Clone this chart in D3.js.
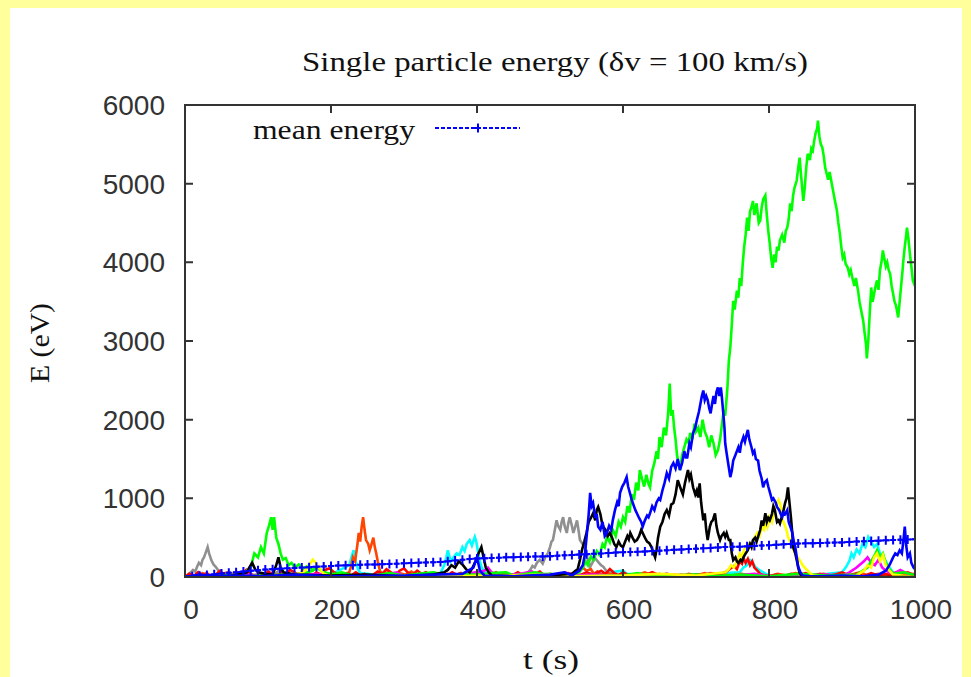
<!DOCTYPE html>
<html>
  <head>
    <script src="https://d3js.org/d3.v7.min.js" charset="utf-8"></script>
    <meta charset="UTF-8">
    <title>single particle energy</title>
    <style>
      body { margin: 0; background: #ffff9c; }
      .tick-label { font-family: "Liberation Sans", Arial, sans-serif; font-size: 28px; fill: #333; }
      .serif { font-family: "Liberation Serif", "Times New Roman", serif; fill: #111; }
    </style>
  </head>
  <body>
    <svg class="chart"></svg>
    <script type="text/javascript">

      var width = 971,
          height = 677,
          plotLeft = 185, plotRight = 915,
          plotTop = 105, plotBottom = 577;

      var xTicks = [0, 200, 400, 600, 800, 1000];
      var yTicks = [0, 1000, 2000, 3000, 4000, 5000, 6000];

      // mean energy, one value every 10 s from t = 0 to 1000
      var meanTimes = d3.range(0, 1001, 10);
      var meanValues = [5, 10, 15, 25, 35, 45, 55, 60, 70, 80, 85, 95, 100, 105, 110, 115, 120, 125, 130, 135,
                        140, 145, 148, 150, 155, 158, 160, 162, 165, 170, 175, 178, 182, 185, 188, 192, 200, 210, 220, 228,
                        235, 238, 240, 245, 250, 252, 255, 258, 260, 262, 265, 270, 275, 280, 285, 290, 295, 300, 305, 310,
                        315, 318, 320, 325, 330, 335, 340, 345, 350, 355, 360, 365, 370, 375, 380, 383, 385, 390, 395, 400,
                        405, 410, 415, 420, 425, 428, 430, 432, 435, 438, 440, 445, 450, 455, 458, 462, 466, 470, 474, 477, 480];

      // single particles, [t, E] pairs
      var greenMain = [[0,0],[20,10],[40,5],[60,20],[80,40],[90,120],[95,300],[100,250],[104,380],[108,300],[112,560],[115,650],[118,760],[120,600],[122,760],[125,500],[128,420],[131,300],[134,220],[138,240],[142,150],[146,180],[150,120],[156,160],[162,110],[168,140],[175,90],[182,120],[190,60],[200,40],[220,20],[250,10],[300,20],[350,10],[400,30],[450,20],[500,40],[520,10],[540,60],[545,120],[549,200],[552,150],[556,260],[560,220],[564,330],[568,280],[572,420],[575,380],[578,510],[582,440],[586,600],[590,520],[594,700],[597,640],[600,760],[603,700],[606,900],[609,820],[612,1050],[615,980],[618,1200],[621,1100],[623,1360],[626,1250],[629,1150],[632,1300],[635,1180],[637,1140],[640,1350],[643,1450],[646,1600],[648,1500],[650,1780],[653,1650],[656,1900],[659,1800],[662,2100],[664,2460],[666,2050],[668,2120],[670,1900],[672,1750],[674,1550],[676,1450],[678,1360],[681,1550],[684,1650],[687,1750],[690,1700],[692,1830],[695,1750],[698,1950],[700,1850],[703,1900],[706,1780],[709,2000],[712,1850],[715,1780],[718,1650],[721,1800],[724,1700],[727,1550],[730,1610],[733,1750],[735,1900],[738,2120],[740,2050],[743,2400],[745,2750],[747,2920],[749,3200],[751,3510],[753,3400],[756,3640],[758,3550],[760,3800],[762,3700],[764,3980],[766,4200],[768,4350],[770,4570],[772,4400],[774,4650],[776,4700],[778,4780],[780,4600],[783,4750],[786,4500],[788,4530],[790,4700],[792,4800],[795,4850],[797,4600],[799,4400],[801,4240],[803,4050],[805,3930],[807,4100],[809,4000],[811,4200],[813,4150],[815,4280],[818,4350],[821,4250],[823,4400],[825,4440],[827,4550],[829,4750],[831,4650],[833,4850],[835,4950],[838,5040],[840,5200],[842,5330],[844,5100],[847,4780],[849,4950],[851,5200],[853,5380],[856,5300],[858,5450],[860,5420],[862,5550],[864,5650],[866,5700],[867,5800],[869,5600],[871,5500],[873,5460],[875,5350],[877,5200],[879,5130],[881,5050],[883,5150],[886,5000],[888,4900],[890,4800],[893,4660],[895,4500],[897,4370],[899,4200],[901,4060],[903,4100],[905,3980],[908,3930],[910,3850],[912,3900],[915,3770],[917,3700],[919,3800],[922,3640],[924,3500],[926,3400],[929,3260],[931,3100],[933,2950],[934,2780],[936,3000],[938,3350],[940,3680],[942,3500],[944,3600],[946,3700],[948,3770],[950,3650],[952,3900],[954,4000],[956,4150],[958,4050],[960,3950],[962,4000],[964,3900],[966,3850],[968,3700],[970,3600],[972,3500],[974,3450],[976,3350],[977,3300],[979,3500],[981,3700],[983,3900],[984,4020],[986,4200],[988,4350],[989,4440],[991,4300],[993,4110],[995,3950],[997,3770],[1000,3700]];

      var blueMain = [[0,0],[20,30],[40,10],[60,20],[100,10],[150,30],[200,10],[300,20],[380,40],[395,120],[400,250],[404,80],[410,20],[450,10],[500,30],[520,60],[530,20],[540,80],[545,150],[548,300],[551,600],[553,800],[555,1070],[557,900],[559,940],[562,750],[564,800],[566,640],[569,600],[572,700],[575,520],[578,560],[581,650],[584,600],[586,720],[589,850],[592,950],[594,900],[596,1070],[599,1150],[602,1200],[605,1270],[607,1150],[610,1050],[612,980],[615,900],[617,850],[619,810],[622,750],[625,700],[627,640],[630,720],[633,780],[635,760],[637,810],[640,900],[643,850],[646,950],[649,1000],[651,980],[654,1100],[657,1200],[660,1320],[663,1250],[666,1400],[669,1450],[672,1380],[675,1500],[678,1360],[681,1450],[684,1600],[686,1520],[688,1520],[691,1700],[693,1650],[696,1830],[699,1900],[701,1990],[704,2100],[706,2200],[708,2300],[710,2370],[712,2250],[714,2300],[716,2250],[718,2150],[720,2080],[722,2200],[724,2300],[726,2200],[728,2350],[730,2410],[732,2300],[734,2410],[735,2330],[737,2120],[739,1900],[740,1700],[742,1570],[744,1450],[747,1270],[749,1350],[751,1480],[754,1550],[756,1600],[758,1650],[760,1580],[762,1700],[765,1780],[767,1720],[769,1800],[771,1870],[773,1750],[776,1650],[778,1570],[780,1600],[782,1500],[785,1480],[787,1350],[790,1250],[792,1140],[794,1200],[797,1230],[799,1150],[802,1050],[804,980],[806,1000],[809,950],[811,890],[814,850],[816,800],[818,760],[820,820],[822,800],[825,850],[827,700],[830,620],[832,560],[834,450],[836,380],[838,250],[840,130],[843,60],[846,20],[860,5],[900,20],[930,10],[950,30],[960,80],[965,150],[970,250],[973,300],[976,280],[979,340],[982,300],[984,450],[986,640],[988,400],[990,250],[993,300],[995,180],[998,120],[1000,100]];

      var blackMain = [[0,0],[30,20],[60,10],[85,60],[88,120],[92,180],[96,100],[100,60],[110,40],[120,30],[125,150],[128,250],[131,120],[135,60],[150,30],[200,20],[250,30],[300,10],[340,30],[355,60],[360,90],[365,150],[370,120],[375,200],[380,160],[385,100],[390,60],[394,120],[398,200],[402,300],[406,380],[409,250],[412,120],[416,60],[420,20],[450,10],[500,20],[530,40],[538,100],[541,215],[544,350],[547,450],[550,560],[553,700],[556,750],[559,810],[562,720],[564,850],[566,890],[569,800],[571,700],[573,640],[576,600],[579,520],[582,560],[585,500],[588,420],[591,380],[594,450],[597,400],[600,380],[603,450],[606,520],[608,480],[610,560],[613,500],[616,450],[619,470],[622,520],[625,600],[627,560],[630,500],[633,450],[636,430],[639,380],[642,300],[644,250],[646,350],[648,500],[651,640],[654,700],[657,800],[660,850],[663,780],[666,920],[669,940],[672,1050],[675,1230],[678,1150],[680,1100],[682,1050],[685,1200],[687,1280],[689,1360],[691,1250],[693,1300],[696,1140],[699,1050],[701,1100],[703,1010],[705,1190],[707,950],[710,720],[712,810],[714,600],[716,470],[719,640],[721,700],[723,720],[726,810],[728,650],[730,560],[733,470],[735,520],[738,560],[740,510],[742,560],[745,470],[747,470],[749,300],[751,215],[754,250],[756,200],[758,180],[761,220],[763,200],[765,250],[768,300],[771,340],[774,420],[776,380],[778,470],[781,500],[783,450],[785,510],[788,600],[790,720],[792,650],[795,810],[797,700],[799,750],[801,720],[804,800],[806,900],[808,850],[811,700],[813,720],[815,680],[817,750],[820,850],[822,940],[824,1000],[826,1140],[828,950],[830,760],[832,550],[833,380],[836,300],[838,215],[840,120],[842,50],[845,10],[900,0],[1000,0]];

      var yellowMain = [[0,0],[150,10],[165,80],[170,150],[175,220],[180,170],[185,100],[190,40],[200,10],[300,20],[350,10],[500,30],[520,10],[600,20],[650,40],[700,20],[740,60],[745,100],[748,150],[752,120],[756,200],[760,300],[763,250],[766,350],[770,400],[774,430],[777,380],[780,500],[784,560],[787,520],[790,640],[793,600],[796,700],[798,640],[801,760],[804,700],[807,850],[810,900],[813,980],[815,940],[817,850],[819,720],[822,650],[824,600],[826,510],[829,450],[832,380],[834,340],[836,300],[839,250],[842,215],[846,150],[849,120],[852,90],[856,50],[860,20],[880,0],[920,20],[930,80],[935,150],[940,120],[944,250],[948,300],[952,200],[956,280],[960,150],[965,80],[970,30],[1000,0]];

      var grayMain = [[0,0],[5,40],[8,60],[11,90],[14,70],[17,140],[19,180],[22,150],[24,220],[26,250],[28,300],[31,380],[33,300],[36,215],[39,160],[42,130],[46,80],[50,40],[55,20],[70,10],[100,30],[120,20],[130,90],[135,50],[150,10],[200,20],[300,10],[340,40],[350,20],[420,30],[440,10],[465,30],[470,60],[473,90],[476,140],[479,120],[482,180],[486,220],[490,170],[494,260],[497,300],[500,380],[502,450],[504,470],[507,620],[509,720],[511,650],[514,600],[516,700],[518,760],[520,650],[523,560],[525,680],[527,760],[530,650],[532,560],[534,620],[537,720],[539,600],[541,470],[544,430],[548,380],[551,250],[555,130],[558,180],[561,250],[564,215],[567,180],[570,150],[573,130],[577,80],[582,30],[600,10],[640,20],[660,40],[680,10],[750,40],[760,20],[800,10],[900,20],[1000,10]];

      var orangeMain = [[0,0],[8,30],[16,10],[24,50],[32,20],[40,10],[50,40],[60,60],[70,20],[80,40],[90,10],[100,30],[115,10],[130,40],[145,20],[160,50],[175,20],[190,40],[200,20],[212,50],[220,30],[225,60],[228,150],[230,250],[233,200],[236,400],[238,560],[240,450],[242,640],[244,760],[246,600],[248,470],[251,420],[253,340],[255,400],[258,500],[260,380],[262,300],[264,200],[267,80],[270,40],[278,60],[286,20],[294,50],[302,30],[310,70],[318,20],[326,40],[334,10],[342,50],[350,20],[360,40],[370,10],[380,30],[390,60],[400,20],[410,40],[420,10],[430,30],[440,50],[450,20],[460,40],[470,10],[480,30],[490,10],[500,40],[510,20],[520,60],[530,30],[540,70],[545,120],[550,80],[556,100],[560,40],[565,70],[570,30],[580,50],[590,20],[600,40],[610,10],[620,30],[630,60],[640,20],[650,40],[660,10],[670,30],[680,10],[690,40],[700,20],[712,50],[724,10],[736,30],[750,20],[762,40],[775,20],[790,30],[800,10],[812,40],[824,20],[836,50],[850,30],[862,10],[874,40],[886,20],[900,10],[912,30],[924,60],[936,20],[950,40],[960,20],[970,50],[980,60],[990,30],[1000,40]];

      var redMain = [[0,0],[6,40],[12,10],[18,60],[24,20],[30,50],[36,0],[42,30],[48,80],[54,20],[60,40],[66,10],[72,60],[78,30],[84,90],[90,40],[96,10],[102,50],[108,20],[114,70],[120,30],[126,10],[132,60],[138,40],[144,90],[150,60],[156,20],[162,80],[168,40],[174,10],[180,60],[186,30],[192,90],[198,110],[204,60],[210,40],[216,10],[222,50],[228,20],[234,60],[240,20],[246,40],[252,0],[258,30],[264,70],[270,40],[276,100],[282,60],[288,20],[294,80],[300,110],[306,50],[312,30],[318,80],[324,40],[330,60],[336,20],[342,50],[348,10],[354,40],[360,20],[366,60],[372,30],[378,50],[384,10],[390,30],[396,0],[420,30],[426,60],[432,20],[438,40],[444,10],[450,30],[456,60],[462,20],[468,50],[474,10],[480,40],[486,70],[492,20],[498,10],[510,30],[520,10],[530,40],[540,20],[550,60],[560,30],[570,80],[576,40],[582,100],[588,50],[594,20],[600,60],[606,30],[612,10],[620,40],[630,20],[640,60],[650,20],[660,40],[670,10],[680,30],[690,10],[700,30],[710,20],[720,50],[730,30],[740,60],[746,100],[752,140],[756,100],[760,200],[763,170],[765,240],[768,180],[771,230],[774,150],[777,200],[780,120],[784,80],[788,40],[792,20],[800,10],[810,30],[820,10],[830,40],[840,20],[850,50],[860,20],[870,40],[880,10],[890,30],[900,60],[910,20],[920,40],[930,10],[940,50],[950,20],[960,40],[970,10],[980,30],[990,60],[1000,20]];

      var cyanMain = [[0,0],[100,20],[200,30],[225,150],[228,250],[231,340],[234,200],[237,100],[240,50],[280,10],[320,20],[350,50],[355,150],[358,250],[360,340],[364,200],[368,250],[372,300],[376,280],[380,380],[383,330],[386,420],[390,470],[393,400],[397,510],[399,450],[401,340],[404,200],[406,130],[410,60],[440,10],[500,20],[560,30],[600,80],[605,40],[640,20],[700,30],[760,60],[765,120],[770,150],[774,215],[778,180],[782,120],[788,80],[800,20],[840,10],[880,40],[900,60],[905,120],[910,200],[913,300],[916,250],[920,350],[924,300],[928,420],[932,380],[936,510],[940,450],[944,380],[948,420],[952,300],[956,250],[960,200],[965,120],[970,60],[980,20],[1000,10]];

      var magentaMain = [[0,0],[30,20],[50,10],[80,40],[100,10],[120,30],[150,10],[180,40],[200,20],[240,10],[280,40],[290,60],[300,10],[330,30],[360,10],[380,30],[410,80],[415,120],[420,60],[430,20],[460,40],[475,70],[485,20],[500,10],[525,50],[535,20],[560,30],[600,10],[650,30],[700,20],[740,10],[780,40],[800,10],[850,20],[880,30],[900,10],[910,60],[920,120],[930,200],[935,250],[940,180],[945,150],[950,220],[955,120],[960,80],[970,40],[980,90],[990,40],[1000,20]];

      var greenSmall = [[0,0],[20,20],[40,10],[60,30],[80,10],[160,40],[175,80],[180,120],[190,60],[200,30],[215,60],[230,20],[260,20],[280,50],[300,20],[320,40],[340,60],[360,20],[380,40],[400,20],[420,50],[440,60],[450,20],[460,30],[480,60],[500,20],[520,40],[540,10],[600,20],[620,50],[640,10],[700,30],[720,10],[760,30],[800,10],[840,40],[880,20],[920,30],[935,120],[940,200],[945,280],[948,340],[952,250],[956,300],[960,180],[965,100],[970,40],[985,60],[1000,20]];

      // drawing order, later ones on top
      var particles = [
        {color: "#909090", values: grayMain},
        {color: "#00ffff", values: cyanMain},
        {color: "#ff4500", values: orangeMain},
        {color: "#ff0000", values: redMain},
        {color: "#ff00ff", values: magentaMain},
        {color: "#00ff00", values: greenSmall},
        {color: "#00ff00", values: greenMain},
        {color: "#ffff00", values: yellowMain},
        {color: "#000000", values: blackMain},
        {color: "#0000ff", values: blueMain}
      ];

      var x = d3.scaleLinear().domain([0, 1000]).range([plotLeft, plotRight]);
      var y = d3.scaleLinear().domain([0, 6000]).range([plotBottom, plotTop]);

      var chart = d3.select(".chart")
          .attr("width", width)
          .attr("height", height)
          .style("display", "block");

      chart.append("rect")
          .attr("x", 10).attr("y", 8)
          .attr("width", 952).attr("height", height - 8)
          .attr("fill", "#ffffff");

      chart.append("clipPath").attr("id", "plot-clip")
        .append("rect")
          .attr("x", plotLeft).attr("y", plotTop)
          .attr("width", plotRight - plotLeft).attr("height", plotBottom - plotTop + 1);

      var line = d3.line()
          .x(function(d) { return x(d[0]); })
          .y(function(d) { return y(d[1]); });

      chart.append("g")
          .attr("clip-path", "url(#plot-clip)")
          .selectAll("path")
          .data(particles)
          .enter().append("path")
          .attr("d", function(d) { return line(d.values); })
          .attr("fill", "none")
          .attr("stroke", function(d) { return d.color; })
          .attr("stroke-width", 2.6)
          .attr("stroke-linejoin", "miter");

      // mean energy
      var meanData = meanTimes.map(function(t, i) { return [t, meanValues[i]]; });
      var plus = "M-3,0h6M0,-4.5v9";

      var meanG = chart.append("g").attr("clip-path", "url(#plot-clip)");
      meanG.append("path")
          .attr("d", line(meanData))
          .attr("fill", "none")
          .attr("stroke", "#0000ff")
          .attr("stroke-width", 2)
          .attr("stroke-dasharray", "4,2");
      meanG.selectAll(".pt")
          .data(meanData)
          .enter().append("path")
          .attr("class", "pt")
          .attr("transform", function(d) { return "translate(" + x(d[0]) + "," + y(d[1]) + ")"; })
          .attr("d", plus)
          .attr("stroke", "#0000ff")
          .attr("stroke-width", 2);

      // frame and ticks (mirrored on all sides, pointing in)
      var frame = chart.append("g").attr("stroke", "#333").attr("stroke-width", 2);
      frame.append("rect")
          .attr("x", plotLeft).attr("y", plotTop)
          .attr("width", plotRight - plotLeft).attr("height", plotBottom - plotTop)
          .attr("fill", "none");
      frame.selectAll(".xt")
          .data(xTicks)
          .enter().append("path")
          .attr("d", function(d) { return "M" + x(d) + "," + plotBottom + "v-8M" + x(d) + "," + plotTop + "v8"; });
      frame.selectAll(".yt")
          .data(yTicks)
          .enter().append("path")
          .attr("d", function(d) { return "M" + plotLeft + "," + y(d) + "h8M" + plotRight + "," + y(d) + "h-8"; });

      chart.selectAll(".xl")
          .data(xTicks)
          .enter().append("text")
          .attr("class", "tick-label")
          .attr("x", function(d) { return x(d) + 6; })
          .attr("y", 619)
          .attr("text-anchor", "middle")
          .text(function(d) { return d; });

      chart.selectAll(".yl")
          .data(yTicks)
          .enter().append("text")
          .attr("class", "tick-label")
          .attr("x", 165)
          .attr("y", function(d) { return y(d) + 10; })
          .attr("text-anchor", "end")
          .text(function(d) { return d; });

      // titles
      chart.append("text")
          .attr("class", "serif")
          .attr("x", 555).attr("y", 71)
          .attr("text-anchor", "middle")
          .attr("font-size", 28)
          .attr("textLength", 506)
          .attr("lengthAdjust", "spacingAndGlyphs")
          .text("Single particle energy (\u03b4v = 100 km/s)");

      chart.append("text")
          .attr("class", "serif")
          .attr("x", 551).attr("y", 669)
          .attr("text-anchor", "middle")
          .attr("font-size", 28)
          .attr("textLength", 56)
          .attr("lengthAdjust", "spacingAndGlyphs")
          .text("t (s)");

      chart.append("text")
          .attr("class", "serif")
          .attr("transform", "translate(49,343) rotate(-90)")
          .attr("text-anchor", "middle")
          .attr("font-size", 28)
          .attr("textLength", 80)
          .attr("lengthAdjust", "spacingAndGlyphs")
          .text("E (eV)");

      // legend
      chart.append("text")
          .attr("class", "serif")
          .attr("x", 415).attr("y", 139)
          .attr("text-anchor", "end")
          .attr("font-size", 28)
          .attr("textLength", 162)
          .attr("lengthAdjust", "spacingAndGlyphs")
          .text("mean energy");

      chart.append("path")
          .attr("d", "M435,128H520")
          .attr("stroke", "#0000ff")
          .attr("stroke-width", 2)
          .attr("stroke-dasharray", "4,2");
      chart.append("path")
          .attr("transform", "translate(478,128)")
          .attr("d", plus)
          .attr("stroke", "#0000ff")
          .attr("stroke-width", 2);

    </script>
  </body>
</html>
